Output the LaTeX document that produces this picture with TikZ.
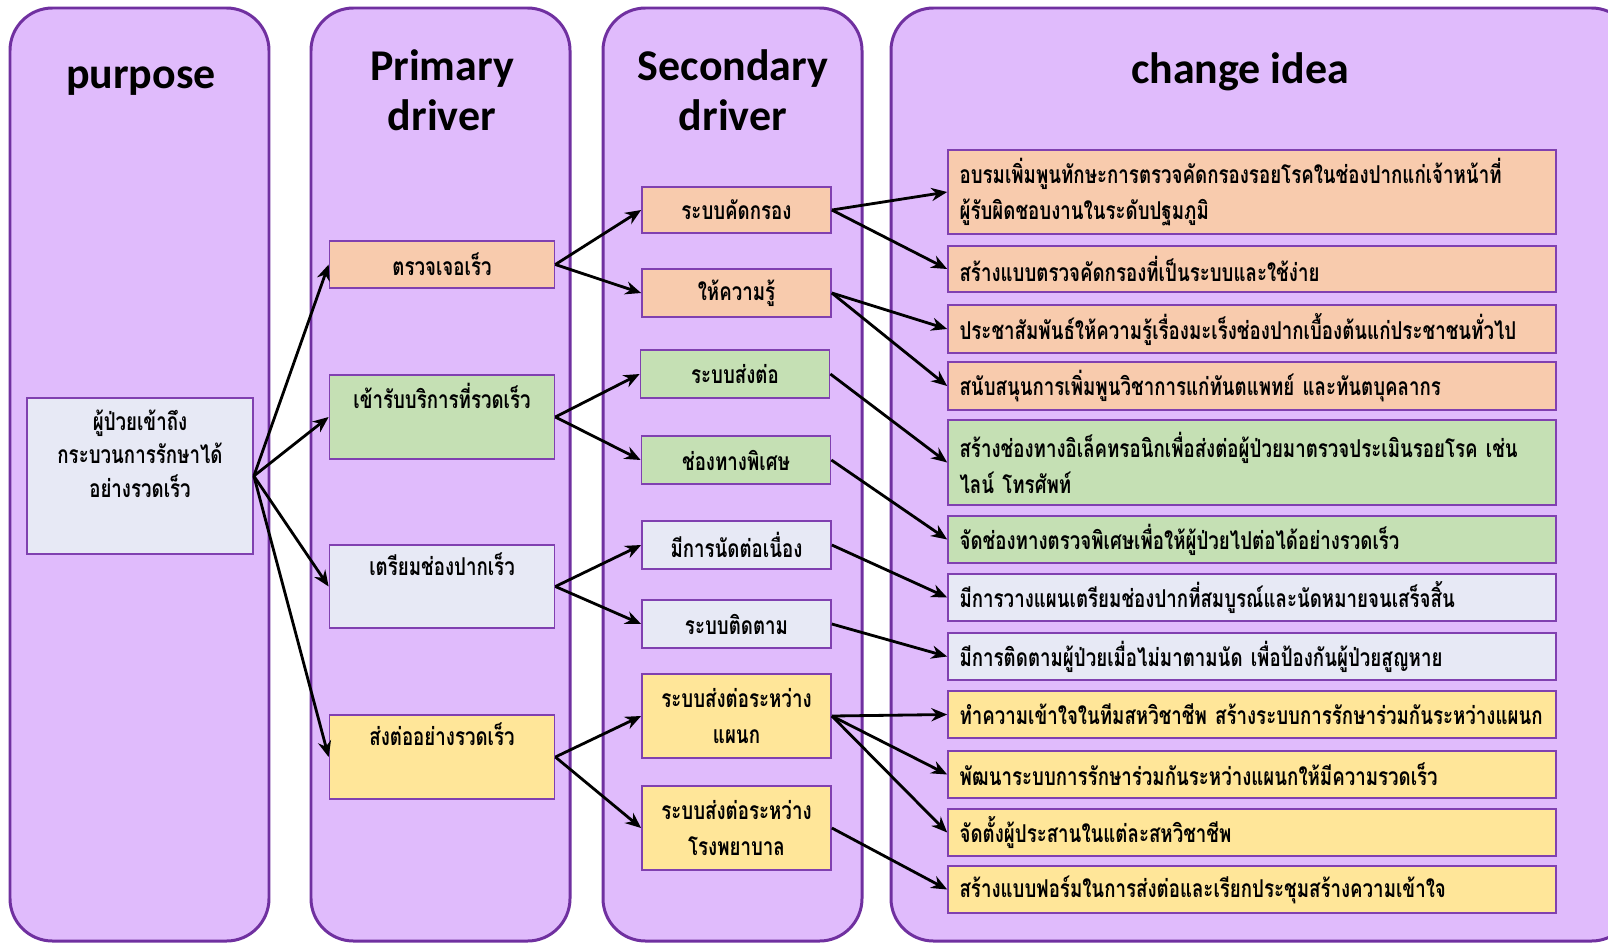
\documentclass[tikz,border=0pt]{standalone}
\usepackage{fontspec}
\setmainfont{Carlito}
\newfontfamily\thai[Script=Thai, FakeStretch=0.76]{Loma}
\usetikzlibrary{arrows.meta,positioning}

\definecolor{lanefill}{HTML}{E0BBFC}
\definecolor{laneline}{HTML}{7030A0}
\definecolor{boxline}{HTML}{8040B0}
\definecolor{orangebox}{HTML}{F8CBAD}
\definecolor{greenbox}{HTML}{C5E0B4}
\definecolor{greybox}{HTML}{E7E9F5}
\definecolor{yellowbox}{HTML}{FFE699}

\begin{document}
\begin{tikzpicture}[x=0.02cm, y=-0.02cm,
  lane/.style={draw=laneline, fill=lanefill, line width=1.7pt, rounded corners=0.85cm},
  ttl/.style={font=\bfseries\fontsize{25}{28.5}\selectfont, align=center},
  box/.style={draw=boxline, line width=1pt, inner sep=0pt, align=center,
    font=\thai\bfseries\fontsize{14}{20.5}\selectfont},
  txt/.style={font=\thai\bfseries\fontsize{14}{19}\selectfont, align=center},
  pdbox/.style={box, minimum width=4.5cm},
  sdbox/.style={box, minimum width=3.78cm},
  cibox/.style={box, minimum width=12.16cm, text width=11.7cm, align=left},
  link/.style={-{Stealth[length=9pt,width=7.5pt]}, line width=1.6pt}]
\clip (0,0) rectangle (1608,947);
\fill[white] (0,0) rectangle (1608,947);

% lanes
\draw[lane] (10,8) rectangle (269,941);
\draw[lane] (311,8) rectangle (570,941);
\draw[lane] (603,8) rectangle (862,941);
\draw[lane] (891,8) rectangle (1634,941);

\node[ttl] at (141,81) {purpose};
\node[ttl] at (442,90) {Primary\\driver};
\node[ttl] at (733,90) {Secondary\\driver};
\node[ttl] at (1240,72) {change idea};

% purpose
\node[box, fill=greybox, minimum width=4.52cm, minimum height=3.12cm] (pur) at (140,476) {};
\node[txt, below=0.13cm of pur.north] {ผู้ป่วยเข้าถึง\\กระบวนการรักษาได้\\อย่างรวดเร็ว};

% primary drivers
\node[pdbox, fill=orangebox, minimum height=0.94cm] (pd1) at (442,264.5) {ตรวจเจอเร็ว};
\node[pdbox, fill=greenbox, minimum height=1.68cm] (pd2) at (442,417) {};
\node[txt, below=0.05cm of pd2.north] {เข้ารับบริการที่รวดเร็ว};
\node[pdbox, fill=greybox, minimum height=1.66cm] (pd3) at (442,586.5) {};
\node[txt, below=0.05cm of pd3.north] {เตรียมช่องปากเร็ว};
\node[pdbox, fill=yellowbox, minimum height=1.68cm] (pd4) at (442,757) {};
\node[txt, below=0.05cm of pd4.north] {ส่งต่ออย่างรวดเร็ว};

% secondary drivers
\node[sdbox, fill=orangebox, minimum height=0.92cm] (sd1) at (736.5,210) {ระบบคัดกรอง};
\node[sdbox, fill=orangebox, minimum height=0.96cm] (sd2) at (736.5,293) {ให้ความรู้};
\node[sdbox, fill=greenbox, minimum height=0.96cm] (sd3) at (735,374) {ระบบส่งต่อ};
\node[sdbox, fill=greenbox, minimum height=0.96cm] (sd4) at (736,460) {ช่องทางพิเศษ};
\node[sdbox, fill=greybox, minimum height=0.96cm] (sd5) at (736.5,545) {มีการนัดต่อเนื่อง};
\node[sdbox, fill=greybox, minimum height=0.96cm] (sd6) at (736.5,624) {ระบบติดตาม};
\node[sdbox, fill=yellowbox, minimum height=1.68cm] (sd7) at (736.5,716) {ระบบส่งต่อระหว่าง\\แผนก};
\node[sdbox, fill=yellowbox, minimum height=1.68cm] (sd8) at (736.5,828) {ระบบส่งต่อระหว่าง\\โรงพยาบาล};

% change ideas
\node[cibox, fill=orangebox, minimum height=1.68cm] (ci1) at (1252,192) {อบรมเพิ่มพูนทักษะการตรวจคัดกรองรอยโรคในช่องปากแก่เจ้าหน้าที่\\ผู้รับผิดชอบงานในระดับปฐมภูมิ};
\node[cibox, fill=orangebox, minimum height=0.92cm] (ci2) at (1252,269) {สร้างแบบตรวจคัดกรองที่เป็นระบบและใช้ง่าย};
\node[cibox, fill=orangebox, minimum height=0.96cm] (ci3) at (1252,329) {ประชาสัมพันธ์ให้ความรู้เรื่องมะเร็งช่องปากเบื้องต้นแก่ประชาชนทั่วไป};
\node[cibox, fill=orangebox, minimum height=0.96cm] (ci4) at (1252,386) {สนับสนุนการเพิ่มพูนวิชาการแก่ทันตแพทย์ และทันตบุคลากร};
\node[cibox, fill=greenbox, minimum height=1.7cm] (ci5) at (1252,462.5) {สร้างช่องทางอิเล็คทรอนิกเพื่อส่งต่อผู้ป่วยมาตรวจประเมินรอยโรค เช่น\\ไลน์ โทรศัพท์};
\node[cibox, fill=greenbox, minimum height=0.94cm] (ci6) at (1252,539.5) {จัดช่องทางตรวจพิเศษเพื่อให้ผู้ป่วยไปต่อได้อย่างรวดเร็ว};
\node[cibox, fill=greybox, minimum height=0.94cm] (ci7) at (1252,597.5) {มีการวางแผนเตรียมช่องปากที่สมบูรณ์และนัดหมายจนเสร็จสิ้น};
\node[cibox, fill=greybox, minimum height=0.94cm] (ci8) at (1252,656.5) {มีการติดตามผู้ป่วยเมื่อไม่มาตามนัด เพื่อป้องกันผู้ป่วยสูญหาย};
\node[cibox, fill=yellowbox, minimum height=0.94cm] (ci9) at (1252,714.5) {ทำความเข้าใจในทีมสหวิชาชีพ สร้างระบบการรักษาร่วมกันระหว่างแผนก};
\node[cibox, fill=yellowbox, minimum height=0.94cm] (ci10) at (1252,774.5) {พัฒนาระบบการรักษาร่วมกันระหว่างแผนกให้มีความรวดเร็ว};
\node[cibox, fill=yellowbox, minimum height=0.94cm] (ci11) at (1252,832.5) {จัดตั้งผู้ประสานในแต่ละสหวิชาชีพ};
\node[cibox, fill=yellowbox, minimum height=0.94cm] (ci12) at (1252,889.5) {สร้างแบบฟอร์มในการส่งต่อและเรียกประชุมสร้างความเข้าใจ};

% arrows
\foreach \t in {pd1,pd2,pd3,pd4}
  \draw[link] (pur.east) -- (\t.west);
\draw[link] (pd1.east) -- (sd1.west);
\draw[link] (pd1.east) -- (sd2.west);
\draw[link] (pd2.east) -- (sd3.west);
\draw[link] (pd2.east) -- (sd4.west);
\draw[link] (pd3.east) -- (sd5.west);
\draw[link] (pd3.east) -- (sd6.west);
\draw[link] (pd4.east) -- (sd7.west);
\draw[link] (pd4.east) -- (sd8.west);
\draw[link] (sd1.east) -- (ci1.west);
\draw[link] (sd1.east) -- (ci2.west);
\draw[link] (sd2.east) -- (ci3.west);
\draw[link] (sd2.east) -- (ci4.west);
\draw[link] (sd3.east) -- (ci5.west);
\draw[link] (sd4.east) -- (ci6.west);
\draw[link] (sd5.east) -- (ci7.west);
\draw[link] (sd6.east) -- (ci8.west);
\foreach \t in {ci9,ci10,ci11}
  \draw[link] (sd7.east) -- (\t.west);
\draw[link] (sd8.east) -- (ci12.west);
\end{tikzpicture}
\end{document}
